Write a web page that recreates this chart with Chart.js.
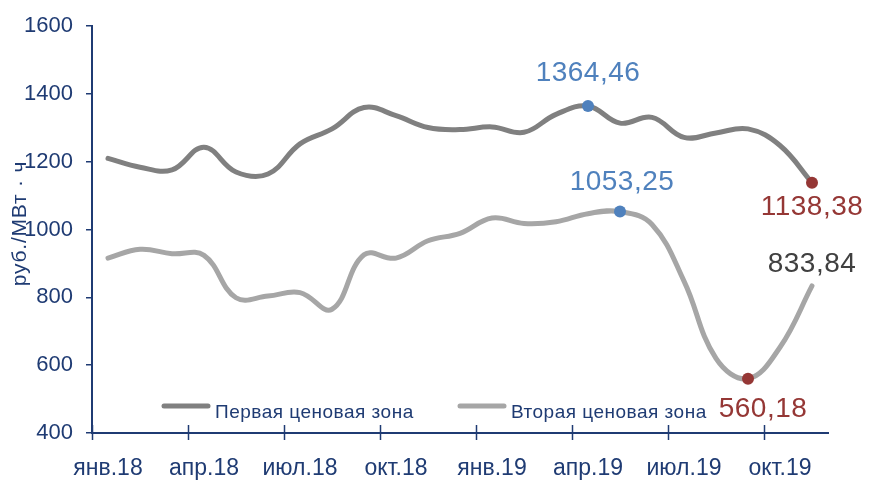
<!DOCTYPE html>
<html><head><meta charset="utf-8">
<script src="https://cdn.jsdelivr.net/npm/chart.js@4.4.1/dist/chart.umd.min.js"></script>
<style>html,body{margin:0;padding:0;background:#fff}#wrap{width:870px;height:480px;position:relative}</style>
</head><body><div id="wrap"><canvas id="c" width="870" height="480"></canvas></div>
<script>
const months = ['янв.18','фев.18','мар.18','апр.18','май.18','июн.18','июл.18','авг.18','сен.18','окт.18','ноя.18','дек.18',
                'янв.19','фев.19','мар.19','апр.19','май.19','июн.19','июл.19','авг.19','сен.19','окт.19','ноя.19'];
const zone1 = [1210,1184,1176,1243,1170,1164,1253,1297,1360,1336,1301,1295,1303,1287,1340,1364.46,1314,1331,1272,1285,1297,1248,1138.38];
const zone2 = [916,942,929,924,799,804,814,765,926,916,967,989,1034,1018,1023,1047,1053.25,1015,848,620,560.18,653,833.84];
const seriesNames = ['Первая ценовая зона','Вторая ценовая зона'];
const yTicks = [400,600,800,1000,1200,1400,1600];
const axisTitle = 'руб./МВт · ч';
// highlighted values: [series, index, text]
const highlights = [[0,15,'1364,46'],[1,16,'1053,25'],[0,22,'1138,38'],[1,20,'560,18'],[1,22,'833,84']];

const NAVY = '#1F3B73';
const BLUE = '#4F81BD', RED = '#953735', DARK = '#404040';
const FONT = "'Liberation Sans', Arial, sans-serif";
const hlStyle = {
  '0-15': {color: BLUE, dot: true, dx: 0, dy: -25, base: 'bottom'},
  '1-16': {color: BLUE, dot: true, dx: 2, dy: -22, base: 'bottom'},
  '0-22': {color: RED, dot: true, dx: 0, dy: 11, base: 'top'},
  '1-20': {color: RED, dot: true, dx: 15, dy: 17, base: 'top'},
  '1-22': {color: DARK, dot: false, dx: 0, dy: -14, base: 'bottom'}
};

const overlay = {
  id: 'overlay',
  afterDatasetsDraw(chart) {
    const ctx = chart.ctx, ca = chart.chartArea, xs = chart.scales.x;
    ctx.save();
    // x tick marks at category boundaries every quarter
    const w = (ca.right - ca.left) / months.length;
    ctx.strokeStyle = NAVY; ctx.lineWidth = 1.5;
    for (let i = 0; i < months.length; i += 3) {
      const x = Math.round(xs.getPixelForValue(i) - w / 2) + 0.5;
      ctx.beginPath(); ctx.moveTo(x, ca.bottom - 8); ctx.lineTo(x, ca.bottom + 7); ctx.stroke();
    }
    // y axis title
    ctx.save();
    ctx.translate(20, (ca.top + ca.bottom) / 2 - 6);
    ctx.rotate(-Math.PI / 2);
    ctx.fillStyle = NAVY; ctx.font = '21px ' + FONT;
    ctx.letterSpacing = '0.8px';
    ctx.textAlign = 'center'; ctx.textBaseline = 'middle';
    ctx.fillText(axisTitle, 0, 0);
    ctx.restore();
    // highlights
    highlights.forEach(([ds, idx, text]) => {
      const st = hlStyle[ds + '-' + idx];
      const el = chart.getDatasetMeta(ds).data[idx];
      if (st.dot) {
        ctx.fillStyle = st.color;
        ctx.beginPath(); ctx.arc(el.x, el.y, 6, 0, Math.PI * 2); ctx.fill();
      }
      ctx.fillStyle = st.color;
      ctx.font = '28px ' + FONT;
      ctx.letterSpacing = '0.5px';
      ctx.textAlign = 'center';
      ctx.textBaseline = st.base === 'top' ? 'top' : 'alphabetic';
      ctx.fillText(text, el.x + st.dx, el.y + st.dy);
    });
    // legend inside chart area
    const items = [[162, chart.data.datasets[0]], [458, chart.data.datasets[1]]];
    const ly = ca.bottom - 27;
    items.forEach(([x, ds]) => {
      ctx.strokeStyle = ds.borderColor; ctx.lineWidth = 5; ctx.lineCap = 'round';
      ctx.beginPath(); ctx.moveTo(x + 2, ly); ctx.lineTo(x + 46, ly); ctx.stroke();
      ctx.fillStyle = NAVY; ctx.font = '19px ' + FONT;
      ctx.letterSpacing = '0.5px';
      ctx.textAlign = 'left'; ctx.textBaseline = 'alphabetic';
      ctx.fillText(ds.label, x + 53, ly + 12);
    });
    ctx.restore();
  }
};

new Chart(document.getElementById('c'), {
  type: 'line',
  data: {
    labels: months,
    datasets: [
      {label: seriesNames[0], data: zone1, borderColor: '#808080', borderWidth: 5, pointRadius: 0, tension: 0.4, borderCapStyle: 'round'},
      {label: seriesNames[1], data: zone2, borderColor: '#A6A6A6', borderWidth: 5, pointRadius: 0, tension: 0.4, borderCapStyle: 'round'}
    ]
  },
  options: {
    responsive: false, animation: false,
    layout: {padding: {top: 23, right: 42, left: 0, bottom: 0}},
    plugins: {legend: {display: false}, tooltip: {enabled: false}},
    scales: {
      x: {
        type: 'category', offset: true,
        grid: {display: false},
        border: {display: true, color: NAVY, width: 2},
        ticks: {autoSkip: false, maxRotation: 0, padding: 14, color: NAVY, font: {family: FONT, size: 23},
          callback: function(v, i) { return i % 3 === 0 ? months[i] : ''; }},
        afterFit(s) { s.height = 47; }
      },
      y: {
        min: yTicks[0], max: yTicks[yTicks.length - 1],
        afterBuildTicks(s) { s.ticks = yTicks.map(v => ({value: v})); },
        grid: {display: true, drawOnChartArea: false, tickLength: 6, color: NAVY, lineWidth: 1.5},
        border: {display: true, color: NAVY, width: 2},
        ticks: {padding: 13, color: NAVY, font: {family: FONT, size: 22}, callback: v => String(v)},
        afterFit(s) { s.width = 92; }
      }
    }
  },
  plugins: [overlay]
});
</script></body></html>
